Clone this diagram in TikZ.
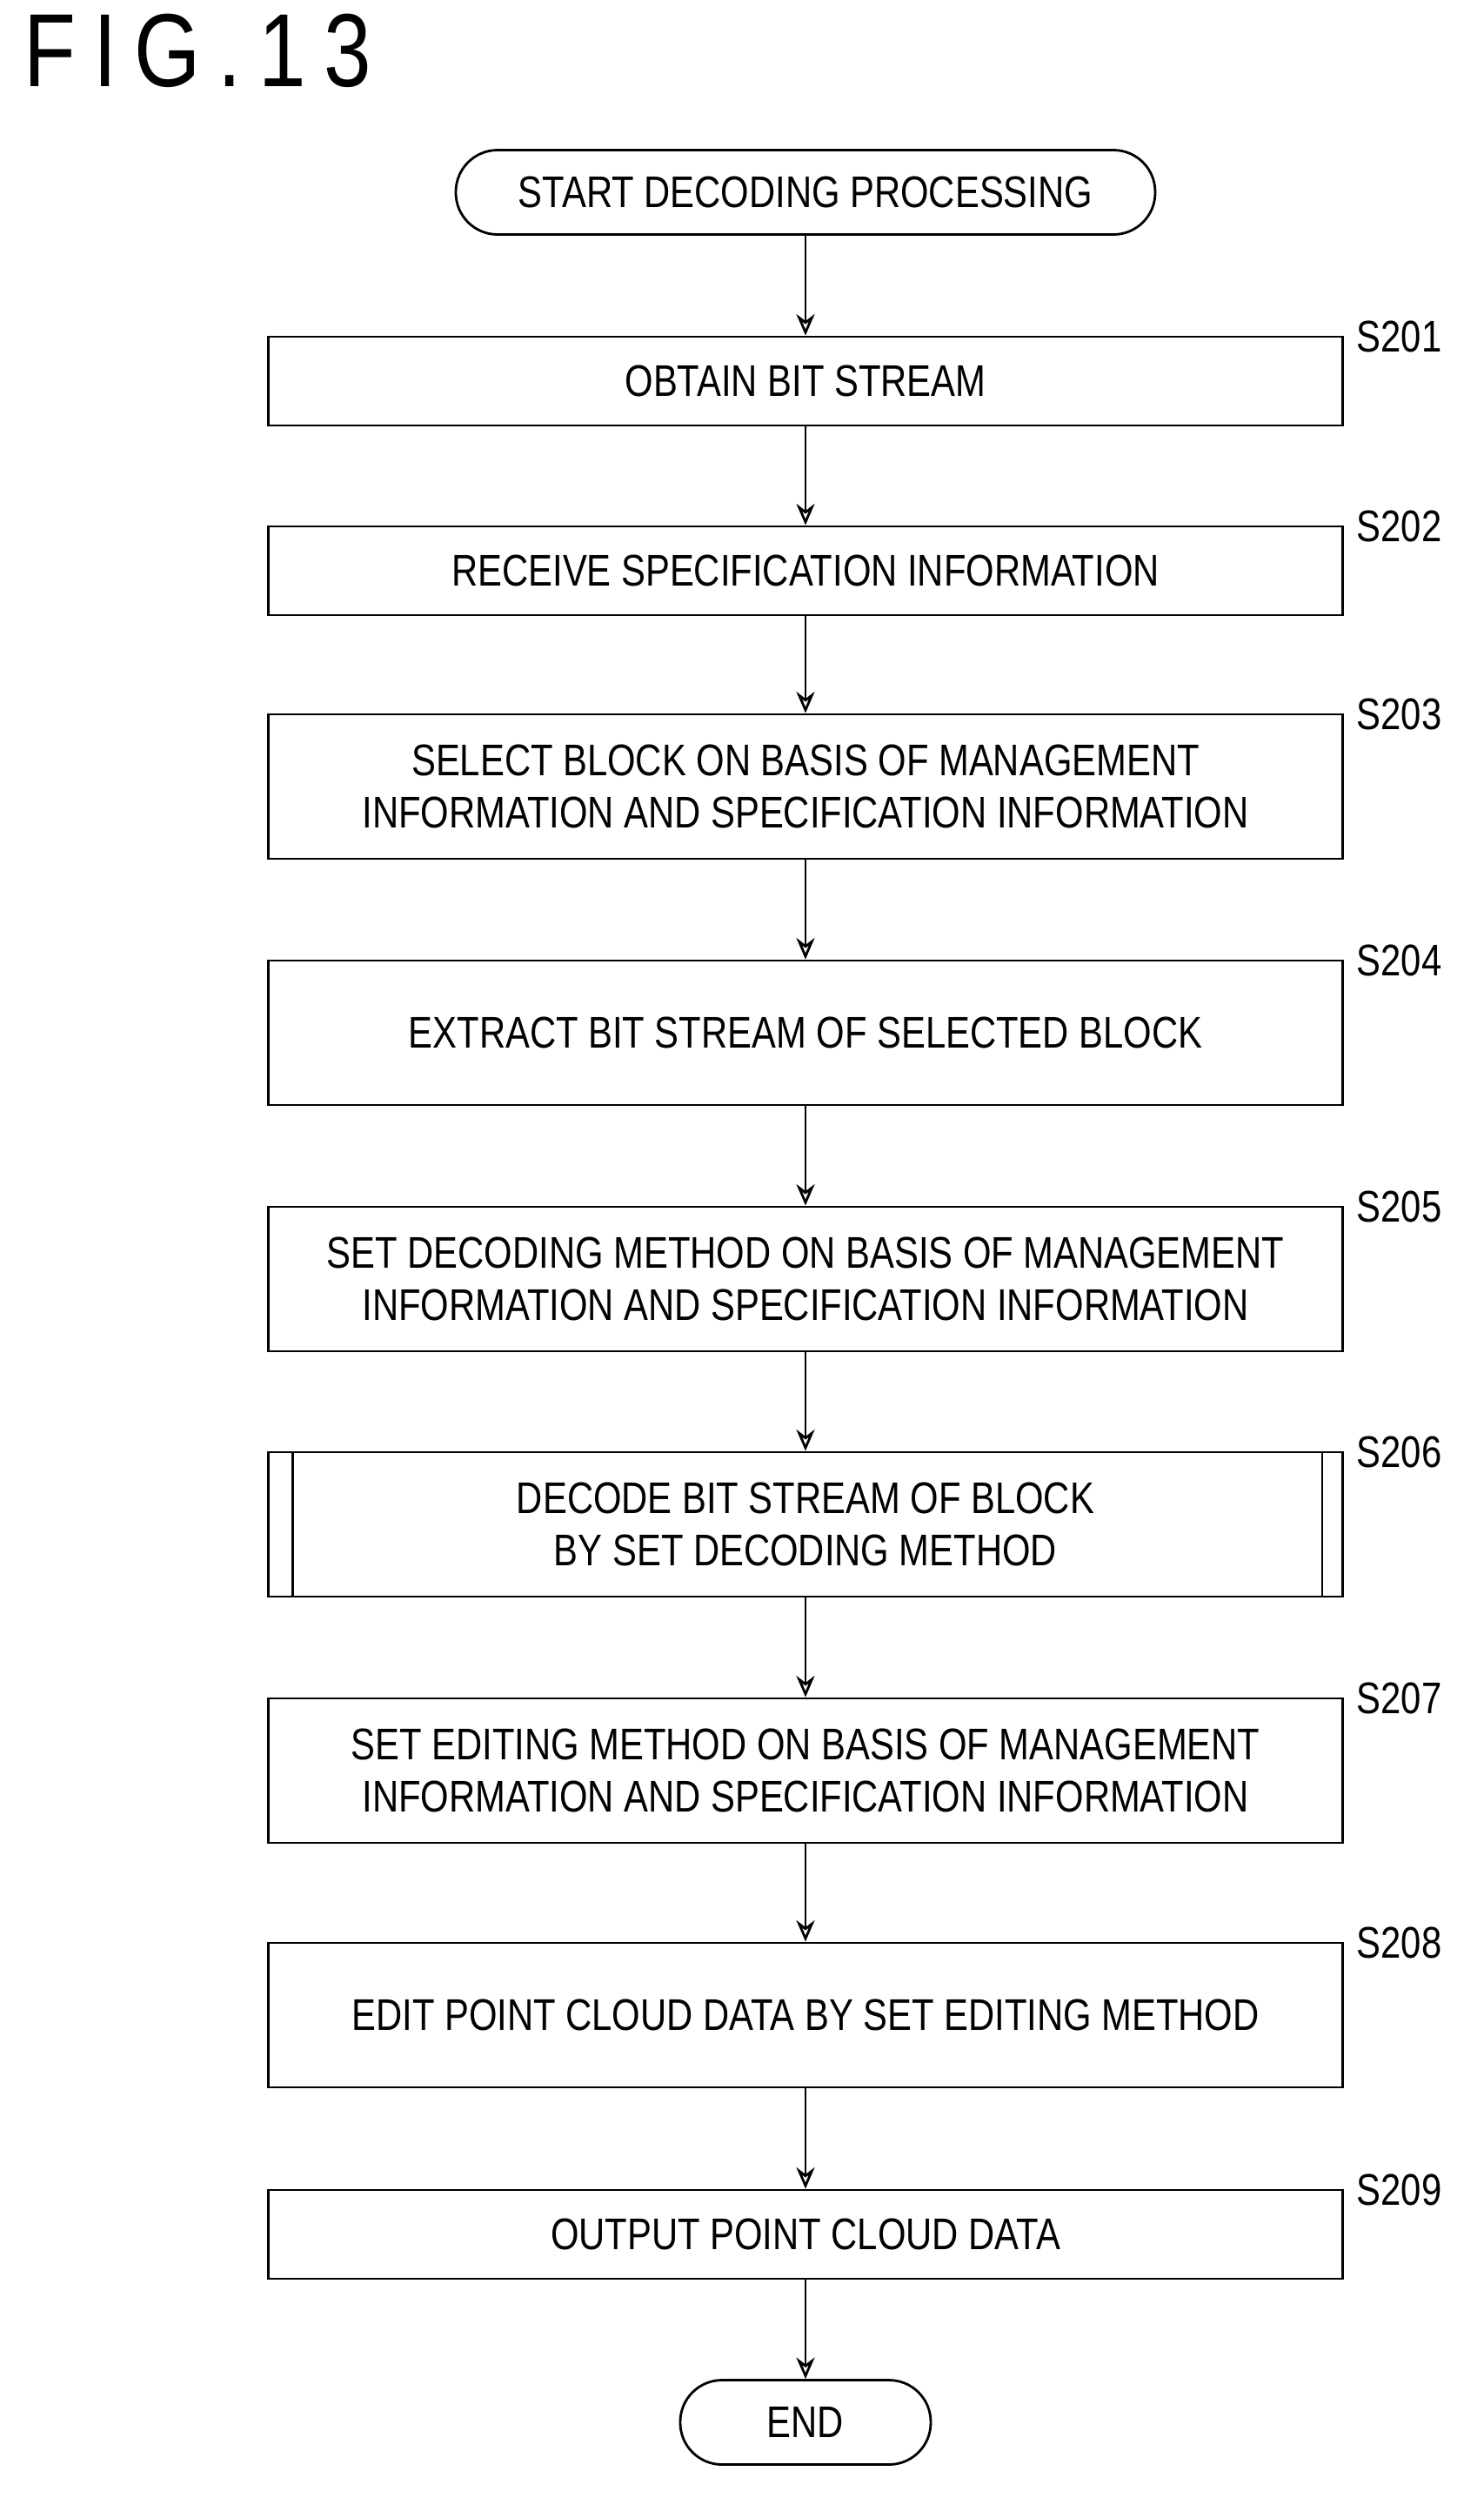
\documentclass[tikz,border=0pt]{standalone}
\usepackage{fontspec}
\setmainfont[FakeStretch=0.82]{Liberation Sans}
\usetikzlibrary{shapes,arrows.meta,positioning}

\begin{document}
\begin{tikzpicture}[% styles used by all steps
				every node/.style={
					align=center,  		% "\\" for line break
					font=\fontsize{14.5}{17}\selectfont
				},
				proc/.style={rectangle,draw,thick,minimum width=12.35cm},
				term/.style={rectangle,rounded corners=0.48cm,draw,thick,minimum height=0.97cm},
				lbl/.style={anchor=north west,inner sep=1pt,xshift=3pt,yshift=6pt},
				every edge/.style={draw,thick,-{Stealth[length=7pt,width=6pt,open]}}
			]
			\useasboundingbox (0,0) rectangle (17.05,-28.71);
			\node[font=\fontsize{34}{36}\selectfont,anchor=west] (T) at (0.15,-0.58) {F\,I\,G\,.\,1\,3};
			\node[term,minimum width=8.04cm](S0) at (9.26,-2.21){START DECODING PROCESSING};
			\node[proc,minimum height=1.02cm](S201) at (9.26,-4.38){OBTAIN BIT STREAM};
			\node[proc,minimum height=1.02cm](S202) at (9.26,-6.56){RECEIVE SPECIFICATION INFORMATION};
			\node[proc,minimum height=1.66cm](S203) at (9.26,-9.04){SELECT BLOCK ON BASIS OF MANAGEMENT\\INFORMATION AND SPECIFICATION INFORMATION};
			\node[proc,minimum height=1.66cm](S204) at (9.26,-11.87){EXTRACT BIT STREAM OF SELECTED BLOCK};
			\node[proc,minimum height=1.66cm](S205) at (9.26,-14.70){SET DECODING METHOD ON BASIS OF MANAGEMENT\\INFORMATION AND SPECIFICATION INFORMATION};
			\node[proc,minimum height=1.66cm](S206) at (9.26,-17.52){DECODE BIT STREAM OF BLOCK\\BY SET DECODING METHOD};
			\node[proc,minimum height=1.66cm](S207) at (9.26,-20.35){SET EDITING METHOD ON BASIS OF MANAGEMENT\\INFORMATION AND SPECIFICATION INFORMATION};
			\node[proc,minimum height=1.66cm](S208) at (9.26,-23.16){EDIT POINT CLOUD DATA BY SET EDITING METHOD};
			\node[proc,minimum height=1.02cm](S209) at (9.26,-25.68){OUTPUT POINT CLOUD DATA};
			\node[term,minimum width=2.88cm](S1) at (9.26,-27.84){END};
			% predefined process bars
			\draw[thick] ([xshift=0.29cm]S206.north west) -- ([xshift=0.29cm]S206.south west);
			\draw[thick] ([xshift=-0.25cm]S206.north east) -- ([xshift=-0.25cm]S206.south east);
			% step labels
			\foreach \s in {201,...,209}
				\node[lbl] at (S\s.north east) {S\s};
			\path
			(S0)edge (S201)
			(S201)edge (S202)
			(S202)edge (S203)
			(S203)edge (S204)
			(S204)edge (S205)
			(S205)edge (S206)
			(S206)edge (S207)
			(S207)edge (S208)
			(S208)edge (S209)
			(S209)edge (S1)
			;
		\end{tikzpicture}
\end{document}
